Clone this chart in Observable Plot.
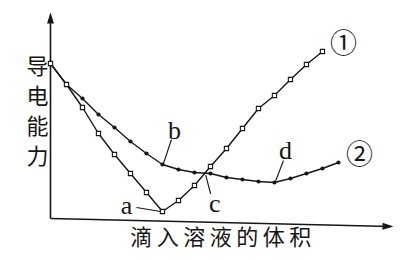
<!DOCTYPE html>
<html>
<head>
<meta charset="utf-8">
<script src="https://cdn.jsdelivr.net/npm/d3@7"></script>
<script src="https://cdn.jsdelivr.net/npm/@observablehq/plot@0.6"></script>
<style>
  html, body { margin: 0; padding: 0; background: #fff; }
  svg { display: block; }
</style>
</head>
<body>
<div id="chart"></div>
<script>
// ---- data ----
const volume1 = [0, 1, 2, 3, 4, 5, 6, 7, 8, 9, 10, 11, 12, 13, 14, 15, 16, 17];
const conductivity1 = [155, 134, 111, 85, 64, 45, 26, 7, 18, 33, 52, 70, 90, 110, 123, 139, 154, 167];
const volume2 = [0, 1, 2, 3, 4, 5, 6, 7, 8, 9, 10, 11, 12, 13, 14, 15, 16, 17, 18];
const conductivity2 = [155, 134, 120, 104, 91, 77, 65, 54, 49, 46, 45, 41, 39, 37, 36, 40, 45, 50, 56];
const curveNames = ["①", "②"];
const pointLabels = ["a", "b", "c", "d"];
const pointVolume = [7, 7, 9.7, 14];
const pointConductivity = [7, 54, 45.5, 36];
const xTitle = "滴入溶液的体积";
const yTitle = "导电能力";
const axisVolumeMax = 21.44;
const axisConductivityMax = 206;
const axisEndDrift = -8;

// ---- layout ----
const W = 402, H = 260;
const mL = 50, mR = 9, mT = 12, mB = 42;
const xRange = [mL, W - mR];
const yRange = [H - mB, mT];
const xScale = Plot.scale({x: {domain: [0, axisVolumeMax], range: xRange}});
const yScale = Plot.scale({y: {domain: [0, axisConductivityMax], range: yRange}});
const shift = (v, c, dx, dy) => [xScale.invert(xScale.apply(v) + dx), yScale.invert(yScale.apply(c) + dy)];

const series1 = volume1.map((v, i) => ({v, c: conductivity1[i]}));
const series2 = volume2.map((v, i) => ({v, c: conductivity2[i]}));

// label text offsets and leader line offsets (pixels)
const textOff = [[-36, -6], [12, -34], [9, 31], [11, -32]];
const leadOff = [[[-26, -4], [-2, 0]], [[9, -25], [1, -1]], [[5, 21], [0, 2]], [[9, -22], [1, -1]]];
const labels = pointLabels.map((t, i) => {
  const [tx, ty] = shift(pointVolume[i], pointConductivity[i], ...textOff[i]);
  const [x1, y1] = shift(pointVolume[i], pointConductivity[i], ...leadOff[i][0]);
  const [x2, y2] = shift(pointVolume[i], pointConductivity[i], ...leadOff[i][1]);
  return {t, tx, ty, x1, y1, x2, y2};
});

const ends = [
  {name: curveNames[0], v: volume1[volume1.length - 1], c: conductivity1[conductivity1.length - 1]},
  {name: curveNames[1], v: volume2[volume2.length - 1], c: conductivity2[conductivity2.length - 1]}
];

const arrowHead = {
  draw(ctx) {
    ctx.moveTo(0, 0);
    ctx.lineTo(3.5, 11);
    ctx.lineTo(-3.5, 11);
    ctx.closePath();
  }
};
const xAxisAngle = 90 - Math.atan2(
  yScale.apply(0) - yScale.apply(axisEndDrift),
  xScale.apply(axisVolumeMax) - xScale.apply(0)) * 180 / Math.PI;

const ink = "#161616";
const cjk = "'Noto Sans CJK SC', sans-serif";
const serif = "'Liberation Serif', 'DejaVu Serif', serif";

const plot = Plot.plot({
  width: W, height: H,
  marginLeft: mL, marginRight: mR, marginTop: mT, marginBottom: mB,
  x: {domain: [0, axisVolumeMax], range: xRange, axis: null},
  y: {domain: [0, axisConductivityMax], range: yRange, axis: null},
  style: {background: "#fff", fontFamily: serif},
  marks: [
    // axes
    Plot.link([{x1: 0, y1: 0, x2: 0, y2: axisConductivityMax - 3}], {x1: "x1", y1: "y1", x2: "x2", y2: "y2", stroke: ink, strokeWidth: 1.6}),
    Plot.link([{x1: 0, y1: 0, x2: axisVolumeMax - 0.2, y2: axisEndDrift}], {x1: "x1", y1: "y1", x2: "x2", y2: "y2", stroke: ink, strokeWidth: 1.4}),
    Plot.dot([{x: 0, y: axisConductivityMax}], {x: "x", y: "y", symbol: arrowHead, fill: ink, stroke: "none"}),
    Plot.dot([{x: axisVolumeMax, y: axisEndDrift}], {x: "x", y: "y", symbol: arrowHead, fill: ink, stroke: "none", rotate: xAxisAngle}),
    // curves
    Plot.line(series2, {x: "v", y: "c", stroke: ink, strokeWidth: 1.4}),
    Plot.line(series1, {x: "v", y: "c", stroke: ink, strokeWidth: 1.4}),
    Plot.dot(series2, {x: "v", y: "c", r: 2.1, fill: ink, stroke: "none"}),
    Plot.dot(series1, {x: "v", y: "c", r: 2.4, symbol: "square", fill: "#fff", stroke: ink, strokeWidth: 1.1}),
    // annotations
    Plot.link(labels, {x1: "x1", y1: "y1", x2: "x2", y2: "y2", stroke: ink, strokeWidth: 1.1}),
    Plot.text(labels, {x: "tx", y: "ty", text: "t", fontSize: 26, fontFamily: serif, fill: ink}),
    Plot.text(ends, {x: "v", y: "c", text: "name", dx: 21, dy: -7, fontSize: 27, fontFamily: cjk, fill: ink}),
    // titles
    Plot.text([xTitle], {text: d => d, frameAnchor: "bottom", dy: 26, dx: 1, fontSize: 22, fontFamily: cjk, fill: ink}),
    Plot.text([yTitle.split("").join("\n")], {text: d => d, frameAnchor: "left", dx: -24, dy: -6, lineHeight: 1.36, fontSize: 22, fontFamily: cjk, fill: ink})
  ]
});

d3.select(plot).selectAll("text").each(function () {
  if (this.textContent === xTitle) this.setAttribute("letter-spacing", "4.5");
});

document.getElementById("chart").appendChild(plot);
</script>
</body>
</html>
